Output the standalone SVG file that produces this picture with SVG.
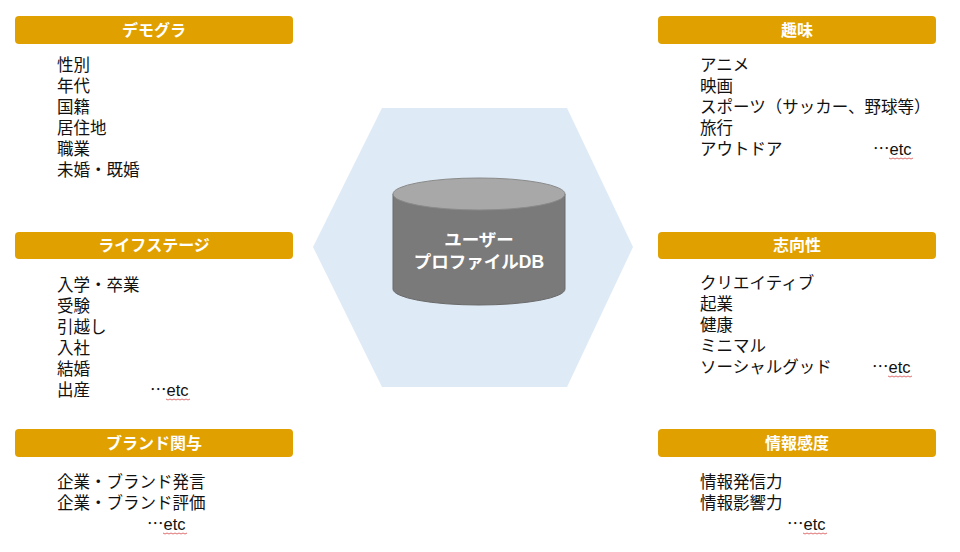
<svg xmlns="http://www.w3.org/2000/svg" width="960" height="552" viewBox="0 0 960 552">
<defs>
<style>
.hdr{fill:#E0A000;}
.ht{font-family:"Noto Sans CJK JP","Noto Sans",sans-serif;font-size:16px;font-weight:bold;fill:#ffffff;text-anchor:middle;}
.bt{font-family:"Liberation Sans","Noto Sans CJK JP",sans-serif;font-size:16.5px;fill:#111111;}
.el{font-family:"Noto Sans CJK JP",sans-serif;font-feature-settings:"fwid";}
.sq{fill:none;stroke:#d84a4a;stroke-width:0.8;}
.dbt{font-family:"Liberation Sans","Noto Sans CJK JP",sans-serif;font-size:17.5px;font-weight:bold;fill:#ffffff;text-anchor:middle;}
</style>
</defs>
<rect width="960" height="552" fill="#ffffff"/>

<g id="center">
<polygon points="382,108 567,108 633,247 567,387 382,387 313,247" fill="#DEEAF6"/>
<path d="M393,194 L393,289 A86,16 0 0 0 565,289 L565,194 Z" fill="#7A7A7A" stroke="#6A6A6A" stroke-width="1"/>
<ellipse cx="479" cy="194" rx="86" ry="16" fill="#A8A8A8" stroke="#8A8A8A" stroke-width="1"/>
<text class="dbt" x="479" y="246">ユーザー<tspan x="479" dy="22">プロファイルDB</tspan></text>
</g>

<g id="demogra">
<rect class="hdr" x="15" y="16" width="278" height="28" rx="4"/>
<text class="ht" x="154" y="36">デモグラ</text>
<text class="bt" x="57" y="71">性別<tspan x="57" dy="21">年代</tspan><tspan x="57" dy="21">国籍</tspan><tspan x="57" dy="21">居住地</tspan><tspan x="57" dy="21">職業</tspan><tspan x="57" dy="21">未婚・既婚</tspan></text>
</g>

<g id="lifestage">
<rect class="hdr" x="15" y="232" width="278" height="27" rx="4"/>
<text class="ht" x="154" y="251">ライフステージ</text>
<text class="bt" x="57" y="291">入学・卒業<tspan x="57" dy="21">受験</tspan><tspan x="57" dy="21">引越し</tspan><tspan x="57" dy="21">入社</tspan><tspan x="57" dy="21">結婚</tspan><tspan x="57" dy="21">出産</tspan><tspan x="150" class="el">…</tspan>etc</text>
<path class="sq" d="M166,399 l2,1 l2,-1 l2,1 l2,-1 l2,1 l2,-1 l2,1 l2,-1 l2,1 l2,-1 l2,1 l2,-1"/>
</g>

<g id="brand">
<rect class="hdr" x="15" y="429" width="278" height="28" rx="4"/>
<text class="ht" x="154" y="449">ブランド関与</text>
<text class="bt" x="57" y="488">企業・ブランド発言<tspan x="57" dy="21">企業・ブランド評価</tspan><tspan x="147" dy="21" class="el">…</tspan>etc</text>
<path class="sq" d="M163,533 l2,1 l2,-1 l2,1 l2,-1 l2,1 l2,-1 l2,1 l2,-1 l2,1 l2,-1 l2,1 l2,-1"/>
</g>

<g id="hobby">
<rect class="hdr" x="658" y="16" width="278" height="28" rx="4"/>
<text class="ht" x="797" y="36">趣味</text>
<text class="bt" x="700" y="71">アニメ<tspan x="700" dy="21">映画</tspan><tspan x="700" dy="21">スポーツ（サッカー、野球等）</tspan><tspan x="700" dy="21">旅行</tspan><tspan x="700" dy="21">アウトドア</tspan><tspan x="873" class="el">…</tspan>etc</text>
<path class="sq" d="M889,158 l2,1 l2,-1 l2,1 l2,-1 l2,1 l2,-1 l2,1 l2,-1 l2,1 l2,-1 l2,1 l2,-1"/>
</g>

<g id="orientation">
<rect class="hdr" x="658" y="232" width="278" height="27" rx="4"/>
<text class="ht" x="797" y="251">志向性</text>
<text class="bt" x="700" y="289">クリエイティブ<tspan x="700" dy="21">起業</tspan><tspan x="700" dy="21">健康</tspan><tspan x="700" dy="21">ミニマル</tspan><tspan x="700" dy="21">ソーシャルグッド</tspan><tspan x="872" class="el">…</tspan>etc</text>
<path class="sq" d="M888,376 l2,1 l2,-1 l2,1 l2,-1 l2,1 l2,-1 l2,1 l2,-1 l2,1 l2,-1 l2,1 l2,-1"/>
</g>

<g id="info">
<rect class="hdr" x="658" y="429" width="278" height="28" rx="4"/>
<text class="ht" x="797" y="449">情報感度</text>
<text class="bt" x="700" y="488">情報発信力<tspan x="700" dy="21">情報影響力</tspan><tspan x="787" dy="21" class="el">…</tspan>etc</text>
<path class="sq" d="M803,533 l2,1 l2,-1 l2,1 l2,-1 l2,1 l2,-1 l2,1 l2,-1 l2,1 l2,-1 l2,1 l2,-1"/>
</g>
</svg>
